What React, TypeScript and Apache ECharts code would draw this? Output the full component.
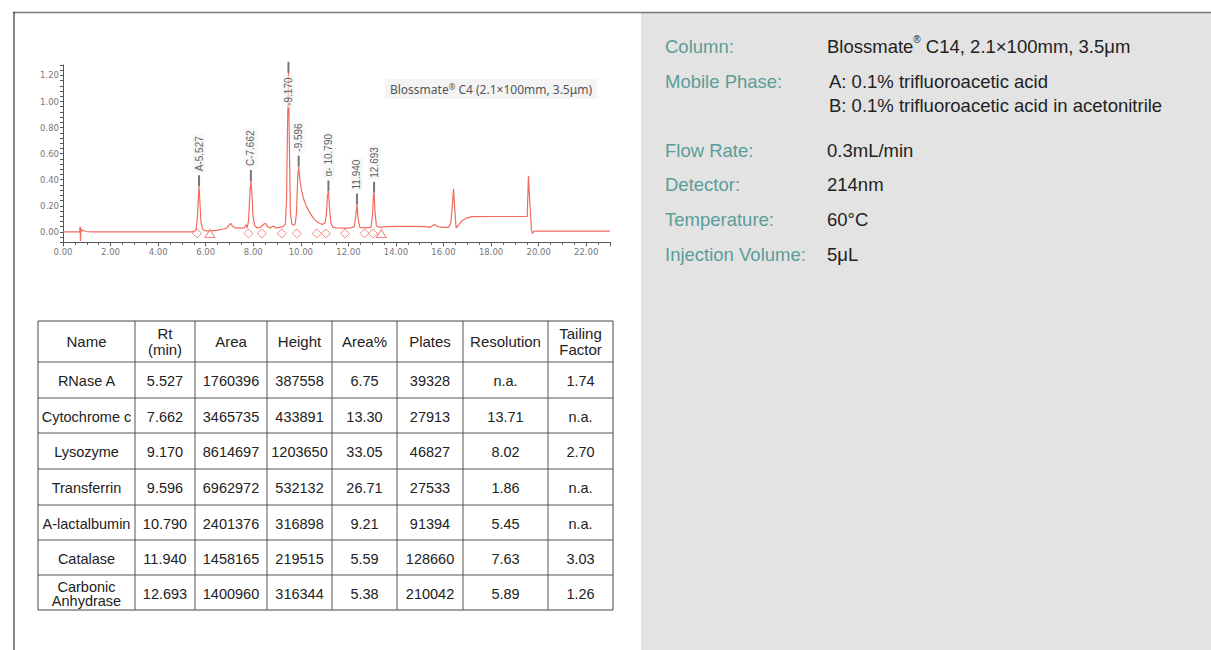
import React, { useEffect, useRef } from "react";
import * as echarts from "echarts";

// ---- chromatogram trace (time in min, absorbance) ----
const traceTime = [
  0.0, 0.7, 0.72, 0.735, 0.75, 0.78, 0.85, 0.95, 1.2, 5.45,
  5.58, 5.64, 5.68, 5.72, 5.76, 5.8, 5.86, 5.95, 6.2, 6.45,
  6.7, 6.9, 7.0, 7.05, 7.12, 7.25, 7.45, 7.62, 7.7, 7.74,
  7.8, 7.86, 7.9, 7.94, 7.99, 8.06, 8.15, 8.3, 8.45, 8.52,
  8.6, 8.72, 8.85, 8.95, 9.1, 9.25, 9.35, 9.4, 9.44, 9.48,
  9.52, 9.56, 9.62, 9.7, 9.76, 9.82, 9.87, 9.91, 9.96, 10.03,
  10.12, 10.25, 10.4, 10.55, 10.7, 10.85, 10.95, 11.02, 11.08, 11.12,
  11.16, 11.2, 11.26, 11.35, 11.5, 11.8, 12.1, 12.25, 12.3, 12.36,
  12.41, 12.48, 12.7, 12.95, 13.01, 13.05, 13.08, 13.12, 13.18, 13.3,
  13.6, 14.2, 14.8, 15.3, 15.45, 15.55, 15.65, 15.75, 15.95, 16.2,
  16.3, 16.37, 16.42, 16.47, 16.53, 16.6, 16.75, 16.95, 17.2, 18.0,
  19.0, 19.52, 19.57, 19.62, 19.7, 19.74, 19.8, 20.5, 23.0,
];
const traceValue = [
  0.0, 0.0, 0.04, -0.07, 0.03, 0.005, 0.012, 0.003, 0.0, 0.0,
  0.01, 0.08, 0.22, 0.35, 0.22, 0.08, 0.025, 0.01, 0.008, 0.012,
  0.02, 0.03, 0.055, 0.065, 0.045, 0.03, 0.028, 0.03, 0.055, 0.03,
  0.08, 0.3, 0.39, 0.3, 0.12, 0.05, 0.03, 0.035, 0.06, 0.065,
  0.04, 0.03, 0.045, 0.03, 0.035, 0.04, 0.06, 0.25, 0.8, 1.22,
  0.65, 0.15, 0.06, 0.05, 0.06, 0.15, 0.42, 0.5, 0.4, 0.32,
  0.25, 0.19, 0.14, 0.1, 0.075, 0.06, 0.06, 0.07, 0.15, 0.28,
  0.31, 0.2, 0.07, 0.035, 0.03, 0.028, 0.03, 0.04, 0.11, 0.21,
  0.1, 0.035, 0.03, 0.035, 0.12, 0.28, 0.3, 0.15, 0.045, 0.035,
  0.04, 0.042, 0.042, 0.04, 0.035, 0.05, 0.055, 0.04, 0.035, 0.035,
  0.06, 0.2, 0.33, 0.18, 0.03, 0.045, 0.08, 0.105, 0.117, 0.118,
  0.118, 0.118, 0.43, 0.25, 0.01, -0.012, 0.005, 0.005, 0.005,
];

// ---- peak annotations ----
const peakTime = [5.72, 7.9, 9.48, 9.91, 11.16, 12.36, 13.08];
const peakApex = [0.35, 0.39, 1.22, 0.5, 0.31, 0.21, 0.3];
const peakLabel = ["A-5.527", "C-7.662", "-9.170", "-9.596", "α- 10.790", "11.940", "12.693"];

// integration marks on baseline
const boundaryTime = [5.64, 7.8, 8.36, 9.2, 9.83, 10.67, 11.05, 11.86, 12.68, 13.03];
const triangleTime = [6.18, 13.38];
const markLevel = -0.012;

const columnNote = "Blossmate{sup|®} C4 (2.1×100mm, 3.5μm)";

// ---- table ----
const tableHeader = ["Name", "Rt\n(min)", "Area", "Height", "Area%", "Plates", "Resolution", "Tailing\nFactor"];
const names = ["RNase A", "Cytochrome c", "Lysozyme", "Transferrin", "A-lactalbumin", "Catalase", "Carbonic\nAnhydrase"];
const rt = ["5.527", "7.662", "9.170", "9.596", "10.790", "11.940", "12.693"];
const area = ["1760396", "3465735", "8614697", "6962972", "2401376", "1458165", "1400960"];
const height = ["387558", "433891", "1203650", "532132", "316898", "219515", "316344"];
const areaPct = ["6.75", "13.30", "33.05", "26.71", "9.21", "5.59", "5.38"];
const plates = ["39328", "27913", "46827", "27533", "91394", "128660", "210042"];
const resolution = ["n.a.", "13.71", "8.02", "1.86", "5.45", "7.63", "5.89"];
const tailing = ["1.74", "n.a.", "2.70", "n.a.", "n.a.", "3.03", "1.26"];

// ---- conditions panel ----
const infoLabels = ["Column:", "Mobile Phase:", "Flow Rate:", "Detector:", "Temperature:", "Injection Volume:"];
const infoValues = [
  "Blossmate{sup|®} C14, 2.1×100mm, 3.5μm",
  "A: 0.1% trifluoroacetic acid\nB: 0.1% trifluoroacetic acid in acetonitrile",
  "0.3mL/min",
  "214nm",
  "60°C",
  "5μL",
];

const TRACE = "#f26b5e";
const ARIAL = '"Liberation Sans", Arial, sans-serif';

function txt(x: number, y: number, text: string, o: any = {}) {
  const align = o.align || "center";
  const va = o.va || "middle";
  return {
    type: "text",
    x,
    y,
    z: 10,
    style: {
      text,
      fill: o.fill || "#222",
      fontSize: o.fontSize || 14.5,
      fontFamily: o.fontFamily || ARIAL,
      lineHeight: o.lineHeight,
      align,
      verticalAlign: va,
      textAlign: align,
      textVerticalAlign: va,
      rich: o.rich,
      backgroundColor: o.bg,
      padding: o.padding,
    },
  };
}

function buildGraphics() {
  const g: any[] = [];
  // grey conditions panel
  g.push({ type: "rect", z: 0, shape: { x: 641, y: 13, width: 570, height: 637 }, style: { fill: "#e3e3e3" } });
  // frame lines
  g.push({ type: "line", z: 1, shape: { x1: 13, y1: 12.5, x2: 1211, y2: 12.5 }, style: { stroke: "#7a7a7a", lineWidth: 1.5 } });
  g.push({ type: "line", z: 1, shape: { x1: 14, y1: 12, x2: 14, y2: 650 }, style: { stroke: "#333", lineWidth: 1.2 } });

  // conditions
  const rowY = [46, 81, 150, 184, 219, 254];
  infoLabels.forEach((l, i) => {
    g.push(txt(665, rowY[i], l, { align: "left", fill: "#5b9d98", fontSize: 18.5 }));
    const v = infoValues[i];
    g.push(
      txt(i === 1 ? 829 : 827, i === 1 ? rowY[i] + 12 : rowY[i], v, {
        align: "left",
        fill: "#222",
        fontSize: 18.5,
        lineHeight: 24,
        rich: { sup: { fontSize: 10, verticalAlign: "top", fontFamily: ARIAL, fill: "#222", lineHeight: 17 } },
      })
    );
  });

  // chart note
  g.push(
    txt(491, 89, columnNote, {
      fill: "#555",
      fontSize: 12,
      fontFamily: '"Noto Sans", sans-serif',
      bg: "#f4f4f4",
      padding: [3, 5],
      rich: { sup: { fontSize: 8, verticalAlign: "top", fill: "#555", fontFamily: '"Noto Sans", sans-serif', lineHeight: 14 } },
    })
  );

  // table
  const colX = [38, 135, 195, 267, 332, 397, 463, 548, 613];
  const rowLines = [321, 362, 398, 433, 469, 505, 540, 575, 610];
  g.push({ type: "rect", z: 5, shape: { x: colX[0], y: rowLines[0], width: colX[8] - colX[0], height: rowLines[8] - rowLines[0] }, style: { fill: "#fff", stroke: "#444", lineWidth: 1 } });
  colX.slice(1, -1).forEach((x) => g.push({ type: "line", z: 6, shape: { x1: x, y1: rowLines[0], x2: x, y2: rowLines[8] }, style: { stroke: "#555", lineWidth: 1 } }));
  rowLines.slice(1, -1).forEach((y) => g.push({ type: "line", z: 6, shape: { x1: colX[0], y1: y, x2: colX[8], y2: y }, style: { stroke: "#555", lineWidth: 1 } }));
  const cols = [names, rt, area, height, areaPct, plates, resolution, tailing];
  tableHeader.forEach((h, c) => {
    const cx = (colX[c] + colX[c + 1]) / 2;
    g.push(txt(cx, (rowLines[0] + rowLines[1]) / 2, h, { lineHeight: 16, fontSize: 15 }));
    cols[c].forEach((v, r) => {
      const cy = (rowLines[r + 1] + rowLines[r + 2]) / 2 + 1;
      g.push(txt(cx, cy, v, { lineHeight: 14 }));
    });
  });
  return g;
}

function yLabel(v: number) {
  const k = v / 0.2;
  if (v > -1e-9 && Math.abs(k - Math.round(k)) < 1e-6) return v.toFixed(2);
  return "";
}

export default function App() {
  const ref = useRef<HTMLDivElement>(null);
  useEffect(() => {
    if (!ref.current) return;
    const chart = echarts.init(ref.current, undefined, { renderer: "svg" });
    const axisColor = "#555";
    const labelStyle = { color: "#777", fontSize: 8.5, fontFamily: '"DejaVu Sans", Verdana, sans-serif' };
    chart.setOption({
      animation: false,
      backgroundColor: "#fff",
      grid: { left: 63, top: 65, width: 547, height: 177.3 },
      xAxis: {
        type: "value",
        min: 0,
        max: 23,
        interval: 2,
        axisLine: { onZero: false, lineStyle: { color: axisColor, width: 1 } },
        axisTick: { length: 4, lineStyle: { color: axisColor } },
        minorTick: { show: true, splitNumber: 4, length: 2.5, lineStyle: { color: axisColor } },
        splitLine: { show: false },
        axisLabel: { ...labelStyle, margin: 5, formatter: (v: number) => (v > 22.5 ? "" : v.toFixed(2)) },
      },
      yAxis: {
        type: "value",
        min: -0.08,
        max: 1.28,
        interval: 0.04,
        axisLine: { show: true, lineStyle: { color: axisColor, width: 1 } },
        axisTick: { length: 3, lineStyle: { color: axisColor } },
        splitLine: { show: false },
        axisLabel: { ...labelStyle, margin: 4, formatter: yLabel },
      },
      graphic: buildGraphics(),
      series: [
        {
          type: "line",
          data: traceTime.map((t, i) => [t, traceValue[i]]),
          showSymbol: false,
          symbol: "none",
          lineStyle: { color: TRACE, width: 1.2 },
          z: 3,
        },
        {
          type: "scatter",
          data: boundaryTime.map((t) => [t, markLevel]),
          symbol: "diamond",
          symbolSize: [9, 9],
          itemStyle: { color: "#fff", borderColor: TRACE, borderWidth: 1 },
          z: 4,
        },
        {
          type: "scatter",
          data: triangleTime.map((t) => [t, markLevel]),
          symbol: "triangle",
          symbolSize: [10, 8],
          itemStyle: { color: "#fff", borderColor: TRACE, borderWidth: 1 },
          z: 4,
        },
        {
          type: "scatter",
          data: peakTime.map((t, i) => {
            const item: any = { value: [t, peakApex[i]], name: peakLabel[i] };
            if (i === 2) item.label = { position: [1, 46] };
            return item;
          }),
          symbol: "rect",
          symbolSize: [2, 11],
          symbolOffset: [0, -5.5],
          itemStyle: { color: "#555" },
          label: {
            show: true,
            formatter: (p: any) => p.name,
            position: "top",
            distance: 2,
            rotate: 90,
            align: "left",
            verticalAlign: "middle",
            fontSize: 10,
            color: "#333",
            fontFamily: ARIAL,
            backgroundColor: "rgba(244,244,244,0.85)",
            padding: [1, 2],
          },
          z: 5,
        },
      ],
    });
    return () => chart.dispose();
  }, []);
  return <div ref={ref} style={{ position: "fixed", left: 0, top: 0, width: 1211, height: 650 }} />;
}
